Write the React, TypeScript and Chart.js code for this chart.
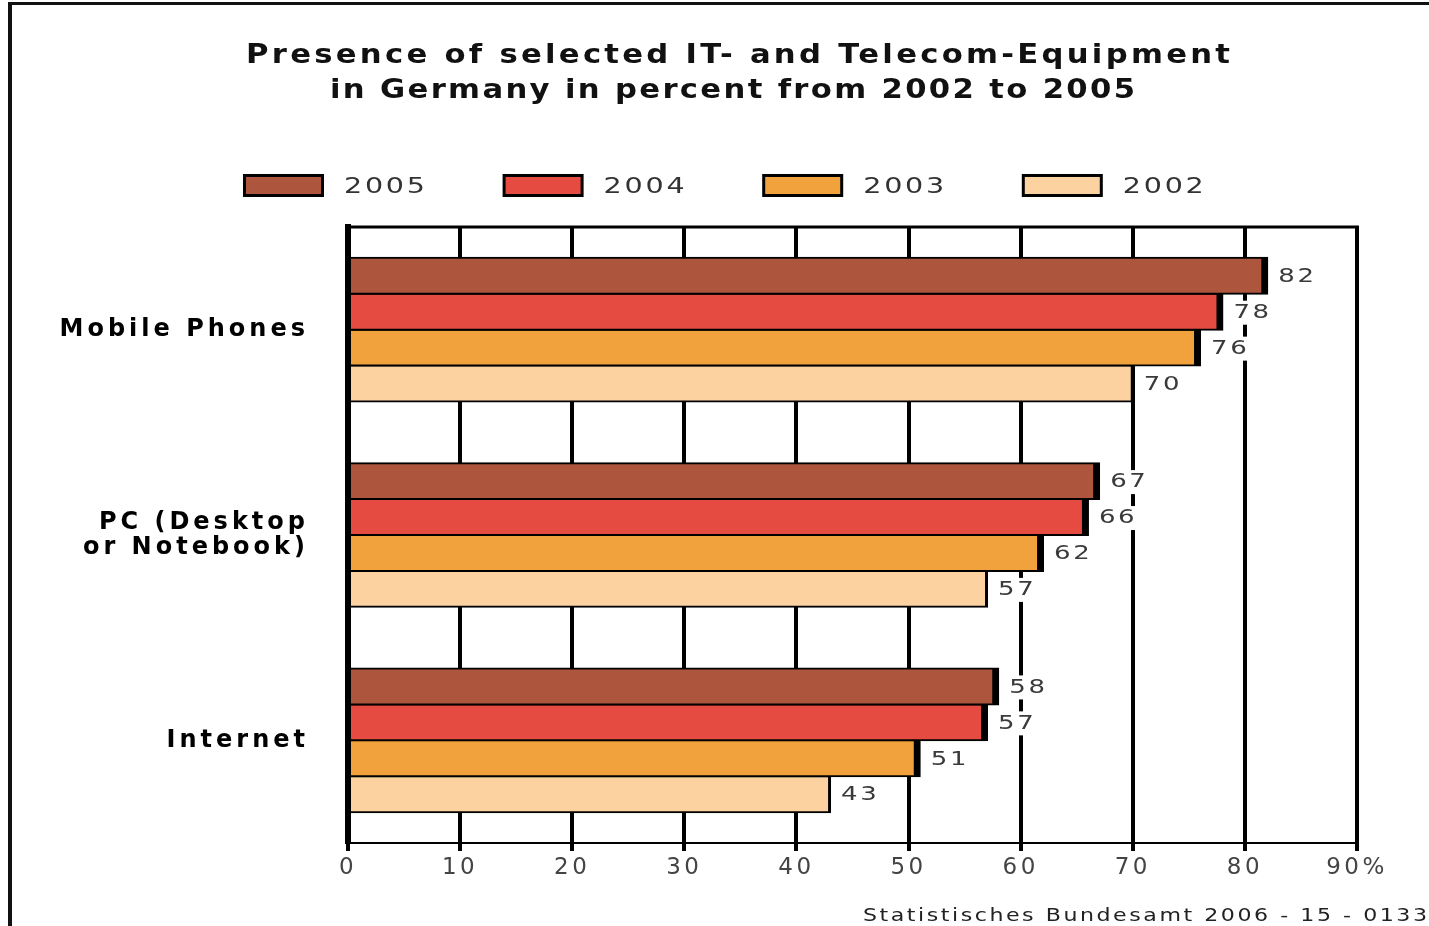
import React, { useEffect, useRef } from 'react';
import { Chart, registerables } from 'chart.js';

Chart.register(...registerables);

// ---- data ----
const categories: string[][] = [['Mobile Phones'], ['PC (Desktop', 'or Notebook)'], ['Internet']];
const seriesLabels = ['2005', '2004', '2003', '2002'];
const values2005 = [82, 67, 58];
const values2004 = [78, 66, 57];
const values2003 = [76, 62, 51];
const values2002 = [70, 57, 43];
const seriesValues = [values2005, values2004, values2003, values2002];
const seriesColors = ['#AD553D', '#E54B40', '#F2A23D', '#FBD2A0'];
const xTickValues = [0, 10, 20, 30, 40, 50, 60, 70, 80, 90];
const titleLines = ['Presence of selected IT- and Telecom-Equipment', 'in Germany in percent from 2002 to 2005'];
const sourceText = 'Statistisches Bundesamt 2006 - 15 - 0133';

const FONT = '"DejaVu Sans", Verdana, sans-serif';

// draw text starting at `left`, horizontally stretched by sx, letter-spaced to fill `width`
function drawFitted(
  ctx: CanvasRenderingContext2D,
  text: string,
  left: number,
  baseline: number,
  width: number,
  sx = 1
) {
  ctx.save();
  (ctx as any).letterSpacing = '0px';
  const w = ctx.measureText(text).width * sx;
  const s = (width - w) / Math.max(1, text.length - 1) / sx;
  (ctx as any).letterSpacing = Math.max(0, s) + 'px';
  ctx.textAlign = 'left';
  ctx.textBaseline = 'alphabetic';
  ctx.translate(left, baseline);
  ctx.scale(sx, 1);
  ctx.fillText(text, 0, 0);
  ctx.restore();
}

const decorPlugin = {
  id: 'decor',
  beforeDraw(chart: any) {
    const ctx = chart.ctx as CanvasRenderingContext2D;
    ctx.save();
    ctx.fillStyle = '#ffffff';
    ctx.fillRect(0, 0, chart.width, chart.height);
    ctx.restore();
    (ctx as any).letterSpacing = '4px'; // y-axis category labels
  },
  afterDatasetsDraw(chart: any) {
    const ctx = chart.ctx as CanvasRenderingContext2D;
    // value labels
    ctx.save();
    ctx.font = `20px ${FONT}`;
    (ctx as any).letterSpacing = '2px';
    ctx.textAlign = 'left';
    ctx.textBaseline = 'middle';
    const sx = 1.3;
    chart.data.datasets.forEach((ds: any, i: number) => {
      const meta = chart.getDatasetMeta(i);
      meta.data.forEach((bar: any, j: number) => {
        const txt = String(ds.data[j]);
        const x = bar.x + 11;
        const y = bar.y + 1;
        const w = ctx.measureText(txt).width * sx;
        ctx.fillStyle = '#ffffff';
        ctx.fillRect(x - 3, y - 12, w + 4, 24);
        ctx.fillStyle = '#3a3a3a';
        ctx.save();
        ctx.translate(x, y);
        ctx.scale(sx, 1);
        ctx.fillText(txt, 0, 0);
        ctx.restore();
      });
    });
    ctx.restore();
    (ctx as any).letterSpacing = '3.5px'; // x-axis tick labels
  },
  afterDraw(chart: any) {
    const ctx = chart.ctx as CanvasRenderingContext2D;
    (ctx as any).letterSpacing = '0px';
    const area = chart.chartArea;
    ctx.save();
    // top border of plot
    ctx.fillStyle = '#000';
    ctx.fillRect(area.left, area.top - 1.5, area.right - area.left + 2, 3);
    // frame
    ctx.fillStyle = '#111';
    ctx.fillRect(8, 2, chart.width - 8, 3);
    ctx.fillRect(8, 2, 4, chart.height - 2);
    // title
    ctx.fillStyle = '#111';
    ctx.font = `bold 26px ${FONT}`;
    drawFitted(ctx, titleLines[0], 246, 63, 984, 1.18);
    drawFitted(ctx, titleLines[1], 330, 98, 805, 1.18);
    // legend
    chart.data.datasets.forEach((ds: any, i: number) => {
      const bx = 243 + i * 259.6;
      const by = 174;
      ctx.fillStyle = '#000';
      ctx.fillRect(bx, by, 81, 23);
      ctx.fillStyle = ds.backgroundColor;
      ctx.fillRect(bx + 3, by + 3, 75, 17);
      ctx.fillStyle = '#333';
      ctx.font = `22px ${FONT}`;
      drawFitted(ctx, ds.label, bx + 101, 193, 81, 1.3);
    });
    // source
    ctx.fillStyle = '#222';
    ctx.font = `17px ${FONT}`;
    drawFitted(ctx, sourceText, 863, 921, 564, 1.3);
    ctx.restore();
  },
};

export default function App() {
  const ref = useRef<HTMLCanvasElement | null>(null);
  useEffect(() => {
    if (!ref.current) return;
    const chart = new Chart(ref.current, {
      type: 'bar',
      data: {
        labels: categories as any,
        datasets: seriesLabels.map((lab, i) => ({
          label: lab,
          data: seriesValues[i],
          backgroundColor: seriesColors[i],
          borderColor: '#000',
          borderWidth: { top: 2, bottom: 2, left: 0, right: i === 3 ? 3 : 7 },
          borderSkipped: false,
          inflateAmount: 1,
          categoryPercentage: 0.7,
          barPercentage: 1.0,
        })),
      },
      options: {
        indexAxis: 'y',
        animation: false,
        responsive: false,
        devicePixelRatio: 1,
        layout: { padding: { top: 227, left: 0, right: 72, bottom: 43 } },
        plugins: {
          legend: { display: false },
          title: { display: false },
          tooltip: { enabled: false },
        },
        scales: {
          x: {
            type: 'linear',
            min: 0,
            max: 90,
            afterBuildTicks: (scale: any) => {
              scale.ticks = xTickValues.map((v) => ({ value: v }));
            },
            afterFit: (scale: any) => {
              scale.height = 40;
            },
            grid: {
              color: '#000',
              lineWidth: 4,
              tickLength: 8,
              drawTicks: true,
              z: -1,
            },
            border: { display: true, color: '#000', width: 2 },
            ticks: {
              z: 1,
              padding: 3,
              color: '#444',
              font: { family: FONT, size: 23 },
              maxRotation: 0,
              autoSkip: false,
              callback: (v: any) => (Number(v) === 90 ? '90%' : String(v)),
            },
          },
          y: {
            type: 'category',
            offset: true,
            afterFit: (scale: any) => {
              scale.width = 348;
            },
            grid: { display: false, drawTicks: false },
            border: { display: true, color: '#000', width: 6, z: 1 },
            ticks: {
              padding: 39,
              color: '#000',
              font: { family: FONT, size: 24, weight: 'bold', lineHeight: 1.05 },
            },
          },
        },
      } as any,
      plugins: [decorPlugin],
    });
    return () => chart.destroy();
  }, []);

  return (
    <div style={{ position: 'absolute', left: 0, top: 0, width: 1429, height: 926, background: '#fff' }}>
      <canvas ref={ref} width={1429} height={926} style={{ display: 'block', width: 1429, height: 926 }} />
    </div>
  );
}
